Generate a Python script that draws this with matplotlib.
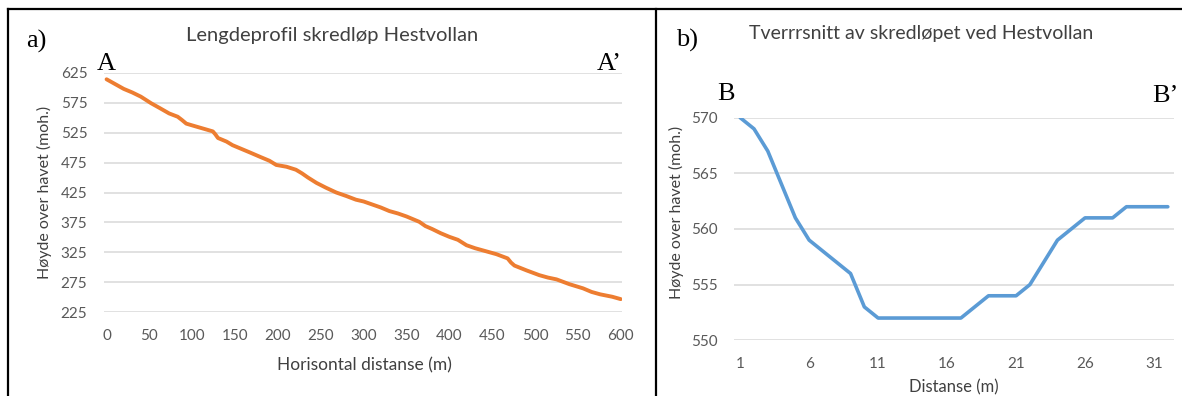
import matplotlib.pyplot as plt
from matplotlib.lines import Line2D

# profile A - A' (length profile)
dist_a = [0, 10, 20, 30, 40, 52, 62, 73, 83, 88, 93, 100, 112, 124, 127, 130,
          140, 147, 157, 167, 180, 190, 198, 210, 221, 228, 235, 245, 256, 268,
          280, 291, 300, 310, 320, 330, 340, 350, 365, 372, 380, 390, 400, 410,
          420, 430, 445, 455, 468, 472, 476, 490, 505, 515, 525, 540, 556, 566,
          576, 590, 600]
height_a = [614, 606, 598, 592, 585, 574, 566, 557, 551.5, 546, 540, 537, 532,
            527, 522, 516, 510, 504, 498, 492, 484, 478, 471, 468, 463, 457,
            450, 441, 433, 425, 419, 413, 410, 405, 400, 394, 390, 385, 376,
            369, 364, 357, 351, 346, 337, 332, 326, 322, 315, 308, 303, 295,
            287, 283, 280, 272, 265, 259, 255, 251, 247]

# cross section B - B'
dist_b = list(range(1, 33))
height_b = [570, 569, 567, 564, 561, 559, 558, 557, 556, 553, 552, 552, 552,
            552, 552, 552, 552, 553, 554, 554, 554, 555, 557, 559, 560, 561,
            561, 561, 562, 562, 562, 562]

W, H = 1182, 396
fig = plt.figure(figsize=(W / 100, H / 100), dpi=100)

sans = "Lato"
serif = "Liberation Serif"
tick_col = "#595959"
text_col = "#404040"
grid_col = "#d9d9d9"


def box(x0, y0, x1, y1):
    # rectangle in pixel coords (top-left origin) -> figure fraction
    return [x0 / W, 1 - y1 / H, (x1 - x0) / W, (y1 - y0) / H]


def style(ax):
    for s in ax.spines.values():
        s.set_visible(False)
    ax.grid(axis="y", color=grid_col, linewidth=1.1)
    ax.set_axisbelow(True)
    ax.tick_params(length=0, labelsize=11, labelcolor=tick_col, pad=12)
    for lab in ax.get_xticklabels() + ax.get_yticklabels():
        lab.set_fontfamily(sans)


# left chart
ax1 = fig.add_axes(box(104, 72.7, 622, 312.3))
ax1.plot(dist_a, height_a, color="#ED7D31", linewidth=2.8, solid_capstyle="round")
ax1.set_xlim(-3, 601.5)
ax1.set_ylim(225, 625)
ax1.set_xticks(range(0, 601, 50))
ax1.set_yticks(range(225, 626, 50))
style(ax1)

# right chart
ax2 = fig.add_axes(box(734, 117.7, 1174, 340.3))
ax2.plot(dist_b, height_b, color="#5B9BD5", linewidth=2.6, solid_capstyle="round")
ax2.set_xlim(0.55, 32.45)
ax2.set_ylim(550, 570)
ax2.set_xticks(range(1, 32, 5))
ax2.set_yticks(range(550, 571, 5))
style(ax2)


def put(x, y, s, **kw):
    fig.text(x / W, 1 - y / H, s, **kw)


# titles and axis labels
put(332, 36, "Lengdeprofil skredløp Hestvollan", ha="center", va="center",
    fontsize=14.5, family=sans, color=text_col)
put(364, 365, "Horisontal distanse (m)", ha="center", va="center",
    fontsize=12.5, family=sans, color=text_col)
put(44, 192, "Høyde over havet (moh.)", ha="center", va="center",
    rotation=90, fontsize=11.5, family=sans, color=text_col)

put(921, 33, "Tverrrsnitt av skredløpet ved Hestvollan", ha="center",
    va="center", fontsize=14, family=sans, color=text_col)
put(954, 387, "Distanse (m)", ha="center", va="center",
    fontsize=12, family=sans, color=text_col)
put(676, 212, "Høyde over havet (moh.)", ha="center", va="center",
    rotation=90, fontsize=11.5, family=sans, color=text_col)

# panel letters and profile end markers
put(26, 48, "a)", ha="left", va="baseline", fontsize=19, family=serif)
put(97, 70, "A", ha="left", va="baseline", fontsize=19, family=serif)
put(597, 70, "A\u2019", ha="left", va="baseline", fontsize=19, family=serif)
put(676, 47, "b)", ha="left", va="baseline", fontsize=19, family=serif)
put(717, 100, "B", ha="left", va="baseline", fontsize=19, family=serif)
put(1152, 102, "B\u2019", ha="left", va="baseline", fontsize=19, family=serif)

# frame lines around the two panels
fig.add_artist(Line2D([7.5 / W, 1], [1 - 8.5 / H] * 2, color="black", lw=1.6))
fig.add_artist(Line2D([7.5 / W] * 2, [0, 1 - 8.5 / H], color="black", lw=1.6))
fig.add_artist(Line2D([655.7 / W] * 2, [0, 1 - 8.5 / H], color="black", lw=1.6))

fig.savefig("out.png", dpi=100)
